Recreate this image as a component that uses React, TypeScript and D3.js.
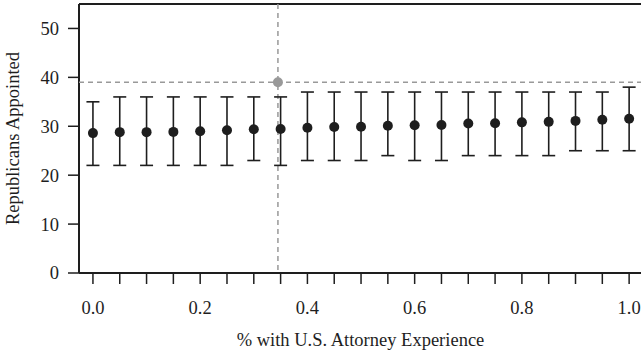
import React from 'react';
import * as d3 from 'd3';

const xValues = [0, 0.05, 0.1, 0.15, 0.2, 0.25, 0.3, 0.35, 0.4, 0.45, 0.5, 0.55, 0.6, 0.65, 0.7, 0.75, 0.8, 0.85, 0.9, 0.95, 1.0];
const means = [28.6, 28.8, 28.8, 28.85, 29.0, 29.2, 29.4, 29.45, 29.7, 29.85, 29.9, 30.1, 30.2, 30.25, 30.55, 30.6, 30.8, 30.9, 31.1, 31.35, 31.55];
const lower = [22, 22, 22, 22, 22, 22, 23, 22, 23, 23, 23, 24, 23, 23, 24, 24, 24, 24, 25, 25, 25];
const upper = [35, 36, 36, 36, 36, 36, 36, 36, 37, 37, 37, 37, 37, 37, 37, 37, 37, 37, 37, 37, 38];
const xTickLabels = [0, 0.2, 0.4, 0.6, 0.8, 1.0];
const yTickLabels = [0, 10, 20, 30, 40, 50];
const actualX = 0.345;
const actualY = 39;

const width = 641;
const height = 356;
const margin = { top: 4, bottom: 83, left: 79 };

export default function App() {
  const x = d3.scaleLinear().domain([-0.026, 1.024]).range([margin.left, width + 1]);
  const y = d3.scaleLinear().domain([0, 55]).range([height - margin.bottom, margin.top]);
  const ink = '#1e1e1e';
  const grey = '#999999';
  const font = "'Liberation Serif', 'Times New Roman', serif";
  const fs = 18.5;
  const capW = 6.5;
  const left = x.range()[0];

  return (
    <svg width={width} height={height} style={{ position: 'fixed', left: 0, top: 0, background: '#fff' }}>
      {/* plot box */}
      <line x1={left} x2={width + 5} y1={y(55)} y2={y(55)} stroke={ink} strokeWidth={2} />
      <line x1={left} x2={left} y1={y(55)} y2={y(0)} stroke={ink} strokeWidth={2} />
      <line x1={left} x2={width + 5} y1={y(0)} y2={y(0)} stroke={ink} strokeWidth={2} />

      {/* reference lines */}
      <line x1={left} x2={width} y1={y(actualY)} y2={y(actualY)} stroke={grey} strokeWidth={1.5} strokeDasharray="5,4" />
      <line x1={x(actualX)} x2={x(actualX)} y1={y(55)} y2={y(0)} stroke={grey} strokeWidth={1.5} strokeDasharray="5,4" />

      {/* y axis ticks */}
      {yTickLabels.map((t) => (
        <g key={t}>
          <line x1={left - 11} x2={left} y1={y(t)} y2={y(t)} stroke={ink} strokeWidth={1.5} />
          <text x={left - 20} y={y(t)} dy="0.35em" textAnchor="end" fontFamily={font} fontSize={fs} fill={ink}>
            {t}
          </text>
        </g>
      ))}

      {/* x axis ticks */}
      {xValues.map((t) => (
        <line key={t} x1={x(t)} x2={x(t)} y1={y(0)} y2={y(0) + 11} stroke={ink} strokeWidth={1.5} />
      ))}
      {xTickLabels.map((t) => (
        <text key={t} x={x(t)} y={y(0) + 40.5} textAnchor="middle" fontFamily={font} fontSize={fs} fill={ink}>
          {d3.format('.1f')(t)}
        </text>
      ))}

      {/* error bars and means */}
      {xValues.map((v, i) => (
        <g key={v}>
          <line x1={x(v)} x2={x(v)} y1={y(lower[i])} y2={y(upper[i])} stroke={ink} strokeWidth={1.6} />
          <line x1={x(v) - capW} x2={x(v) + capW} y1={y(lower[i])} y2={y(lower[i])} stroke={ink} strokeWidth={1.6} />
          <line x1={x(v) - capW} x2={x(v) + capW} y1={y(upper[i])} y2={y(upper[i])} stroke={ink} strokeWidth={1.6} />
          <circle cx={x(v)} cy={y(means[i])} r={5} fill={ink} />
        </g>
      ))}

      <circle cx={x(actualX)} cy={y(actualY)} r={5} fill={grey} />

      {/* axis titles */}
      <text x={360.5} y={346} textAnchor="middle" fontFamily={font} fontSize={fs} fill={ink}>
        % with U.S. Attorney Experience
      </text>
      <text transform={`translate(19, ${(y(0) + y(55)) / 2}) rotate(-90)`} textAnchor="middle" fontFamily={font} fontSize={fs} fill={ink}>
        Republicans Appointed
      </text>
    </svg>
  );
}
